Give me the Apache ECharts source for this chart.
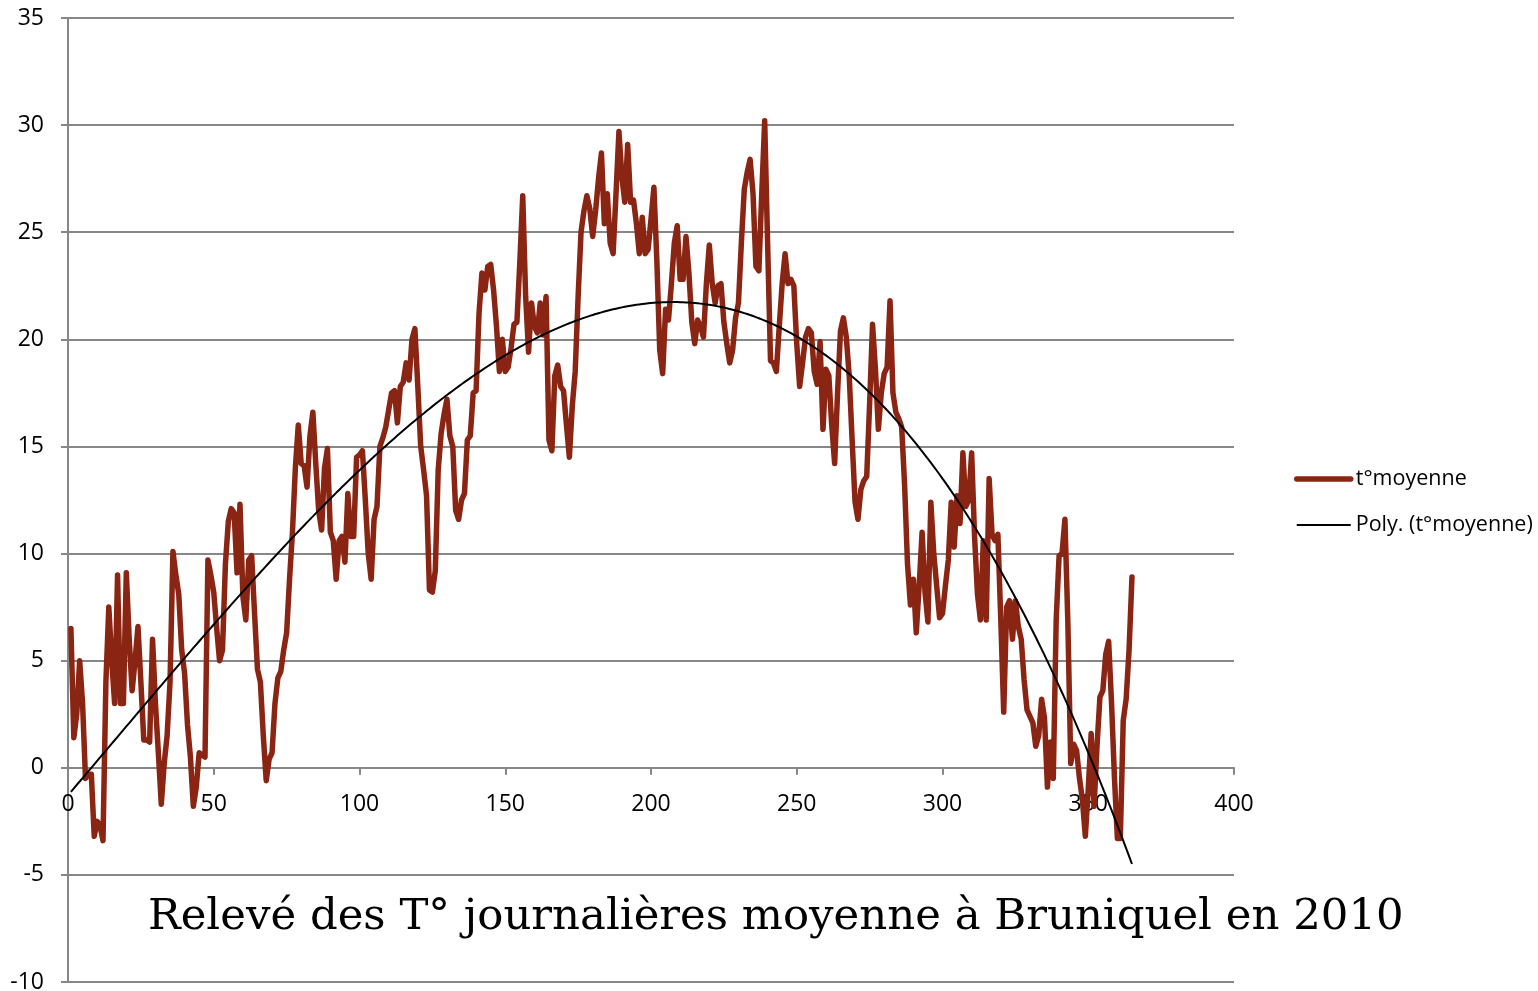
<!DOCTYPE html>
<html>
<head>
<meta charset="utf-8">
<script src="https://cdn.jsdelivr.net/npm/echarts@6/dist/echarts.min.js"></script>
<style>html,body{margin:0;padding:0;background:#fff}#c{width:1538px;height:991px}</style>
</head>
<body>
<div id="c"></div>
<script>
// Daily mean temperature, Bruniquel 2010 (day 1 .. 365)
const tmoy = [
 6.5, 1.4, 2.5, 5.0, 3.0, -0.5, -0.3, -0.3, -3.2, -2.5,
 -2.7, -3.4, 4.0, 7.5, 5.0, 3.0, 9.0, 3.0, 3.0, 9.1,
 6.0, 3.6, 5.0, 6.6, 4.0, 1.3, 1.3, 1.2, 6.0, 3.0,
 0.7, -1.7, 0.2, 1.5, 4.0, 10.1, 9.0, 8.1, 5.5, 4.4,
 2.0, 0.5, -1.8, -0.9, 0.7, 0.6, 0.5, 9.7, 9.0, 8.2,
 6.5, 5.0, 5.5, 9.5, 11.5, 12.1, 11.9, 9.1, 12.3, 8.0,
 6.9, 9.7, 9.9, 7.2, 4.6, 4.0, 1.5, -0.6, 0.4, 0.7,
 3.0, 4.2, 4.5, 5.5, 6.3, 8.8, 11.0, 14.0, 16.0, 14.2,
 14.1, 13.1, 15.5, 16.6, 14.2, 12.0, 11.1, 14.0, 14.9, 11.0,
 10.6, 8.8, 10.6, 10.8, 9.6, 12.8, 10.8, 10.8, 14.5, 14.6,
 14.8, 12.5, 10.0, 8.8, 11.6, 12.2, 15.0, 15.4, 15.9, 16.7,
 17.5, 17.6, 16.1, 17.8, 18.0, 18.9, 18.1, 20.0, 20.5, 17.8,
 15.0, 13.9, 12.7, 8.3, 8.2, 9.2, 13.9, 15.6, 16.5, 17.2,
 15.5, 15.0, 12.0, 11.6, 12.5, 12.8, 15.3, 15.5, 17.5, 17.6,
 21.2, 23.1, 22.3, 23.4, 23.5, 22.3, 20.6, 18.5, 20.0, 18.5,
 18.7, 19.6, 20.7, 20.8, 23.6, 26.7, 22.0, 19.4, 21.7, 20.6,
 20.3, 21.7, 20.2, 22.0, 15.3, 14.8, 18.3, 18.8, 17.8, 17.6,
 16.0, 14.5, 16.9, 18.5, 22.0, 25.0, 26.0, 26.7, 26.1, 24.8,
 26.0, 27.5, 28.7, 25.4, 26.8, 24.5, 24.0, 26.8, 29.7, 27.6,
 26.4, 29.1, 26.4, 26.5, 25.4, 24.0, 25.7, 24.0, 24.2, 25.6,
 27.1, 23.7, 19.5, 18.4, 21.4, 20.9, 22.6, 24.5, 25.3, 22.8,
 22.8, 24.8, 23.1, 20.8, 19.8, 20.9, 20.6, 20.1, 22.6, 24.4,
 22.6, 21.7, 22.5, 22.6, 20.8, 19.8, 18.9, 19.5, 21.0, 21.7,
 24.5, 27.0, 27.8, 28.4, 26.8, 23.4, 23.2, 26.8, 30.2, 24.5,
 19.0, 18.9, 18.5, 20.6, 22.6, 24.0, 22.6, 22.8, 22.5, 19.8,
 17.8, 18.9, 20.1, 20.5, 20.3, 18.5, 17.9, 19.9, 15.8, 18.6,
 18.3, 16.0, 14.2, 17.5, 20.4, 21.0, 20.1, 18.3, 15.3, 12.4,
 11.6, 13.0, 13.4, 13.6, 17.0, 20.7, 18.6, 15.8, 17.5, 18.4,
 18.7, 21.8, 17.5, 16.6, 16.3, 15.9, 13.2, 9.5, 7.6, 8.8,
 6.3, 8.5, 11.0, 8.2, 6.8, 12.4, 10.0, 8.5, 7.0, 7.2,
 8.5, 9.7, 12.4, 10.3, 12.7, 11.4, 14.7, 12.2, 12.5, 14.7,
 10.8, 8.1, 6.9, 10.6, 6.9, 13.5, 10.9, 10.6, 10.9, 6.9,
 2.6, 7.5, 7.8, 6.0, 7.8, 6.6, 6.0, 4.1, 2.7, 2.4,
 2.1, 1.0, 1.5, 3.2, 2.3, -0.9, 1.2, -0.5, 6.9, 9.9,
 10.0, 11.6, 6.8, 0.2, 1.1, 0.8, -0.5, -1.5, -3.2, -1.0,
 1.6, -1.8, 1.0, 3.3, 3.6, 5.3, 5.9, 3.0, -0.5, -3.3,
 -3.3, 2.2, 3.2, 5.5, 8.9
];
const xTicks = [0, 50, 100, 150, 200, 250, 300, 350, 400];
const yTicks = [-10, -5, 0, 5, 10, 15, 20, 25, 30, 35];
const seriesNames = ['t°moyenne', 'Poly. (t°moyenne)'];
const titleText = 'Relevé des T° journalières moyenne à Bruniquel en 2010';
const polyOrder = 3;

// Build (day, value) pairs
const pts = tmoy.map((v, i) => [i + 1, v]);

// Least-squares polynomial trendline (like Excel "Poly.")
function polyFit(points, order) {
  const s = 365;
  const n = order + 1;
  const A = Array.from({length: n}, () => new Array(n + 1).fill(0));
  points.forEach(([x, y]) => {
    const t = x / s;
    const pw = [];
    for (let k = 0; k < 2 * n; k++) pw.push(Math.pow(t, k));
    for (let r = 0; r < n; r++) {
      for (let c = 0; c < n; c++) A[r][c] += pw[r + c];
      A[r][n] += y * pw[r];
    }
  });
  for (let i = 0; i < n; i++) {
    let m = i;
    for (let r = i + 1; r < n; r++) if (Math.abs(A[r][i]) > Math.abs(A[m][i])) m = r;
    [A[i], A[m]] = [A[m], A[i]];
    for (let r = 0; r < n; r++) {
      if (r === i) continue;
      const f = A[r][i] / A[i][i];
      for (let c = i; c <= n; c++) A[r][c] -= f * A[i][c];
    }
  }
  const coef = A.map((row, i) => row[n] / row[i]);
  return x => coef.reduce((acc, c, k) => acc + c * Math.pow(x / s, k), 0);
}
const fit = polyFit(pts, polyOrder);
const trend = pts.map(([x]) => [x, fit(x)]);

const gray = '#878787';
const font = 'Open Sans';
const chart = echarts.init(document.getElementById('c'), null, {renderer: 'canvas'});
chart.setOption({
  animation: false,
  backgroundColor: '#fff',
  title: {
    text: titleText,
    left: 148,
    top: 896,
    padding: 0,
    textStyle: {fontFamily: 'DejaVu Serif', fontWeight: 'normal', fontSize: 43.4, color: '#000'}
  },
  legend: {
    orient: 'vertical',
    left: 1294,
    top: 466,
    padding: 0,
    itemWidth: 54,
    itemHeight: 4,
    itemGap: 20,
    data: seriesNames,
    itemStyle: {opacity: 0},
    lineStyle: {width: 'inherit'},
    textStyle: {fontFamily: font, fontSize: 21.5, color: '#000', lineHeight: 26}
  },
  grid: {left: 68, right: 304, top: 18, bottom: 9, outerBoundsMode: 'none', containLabel: false},
  xAxis: {
    type: 'value',
    min: xTicks[0],
    max: xTicks[xTicks.length - 1],
    interval: xTicks[1] - xTicks[0],
    axisLine: {show: true, onZero: false, lineStyle: {color: gray, width: 2}},
    axisTick: {show: true, length: 7, lineStyle: {color: gray, width: 2}},
    axisLabel: {fontFamily: font, fontSize: 23, color: '#000', margin: 25},
    splitLine: {show: false}
  },
  yAxis: {
    type: 'value',
    min: yTicks[0],
    max: yTicks[yTicks.length - 1],
    interval: yTicks[1] - yTicks[0],
    axisLine: {show: true, lineStyle: {color: gray, width: 2}},
    axisTick: {show: true, length: 7, lineStyle: {color: gray, width: 2}},
    axisLabel: {fontFamily: font, fontSize: 23, color: '#000', margin: 24},
    splitLine: {show: true, lineStyle: {color: gray, width: 2}}
  },
  series: [
    {
      name: seriesNames[0],
      type: 'line',
      data: pts,
      showSymbol: false,
      symbol: 'none',
      lineStyle: {color: '#8A2413', width: 5.5, cap: 'round', join: 'round'},
      itemStyle: {color: '#8A2413'},
      z: 3
    },
    {
      name: seriesNames[1],
      type: 'line',
      data: trend,
      showSymbol: false,
      symbol: 'none',
      lineStyle: {color: '#000', width: 2},
      itemStyle: {color: '#000'},
      z: 4
    }
  ]
});
// Place the x axis where y = 0 (as in the spreadsheet chart)
const yZero = chart.convertToPixel({yAxisIndex: 0}, 0);
const yBottom = chart.convertToPixel({yAxisIndex: 0}, yTicks[0]);
chart.setOption({xAxis: {offset: -(yBottom - yZero)}});
</script>
</body>
</html>
